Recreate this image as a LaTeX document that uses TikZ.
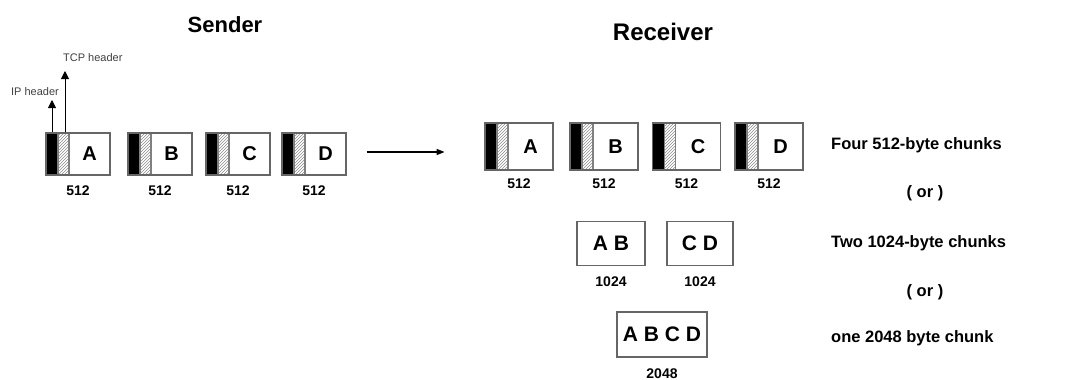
\documentclass[tikz,border=0pt]{standalone}
\usepackage{fontspec}
\setmainfont{Liberation Sans}
\usetikzlibrary{arrows.meta, positioning, patterns}

\tikzset{
  pkt/.style={draw=black!60, line width=1.2pt, minimum width=64pt, minimum height=42pt, inner sep=0pt,
    font=\bfseries\fontsize{20}{22}\selectfont, execute at begin node={\hspace*{23pt}},
    path picture={
      \fill[black] (path picture bounding box.south west) rectangle ([xshift=12pt]path picture bounding box.north west);
      \draw[black!50, pattern=north east lines, pattern color=black!45]
        ([xshift=12pt]path picture bounding box.south west) rectangle ([xshift=23pt]path picture bounding box.north west);
    }},
  rpkt/.style={pkt, minimum width=68pt, minimum height=47pt},
  chunk/.style={draw=black!60, line width=1.2pt, minimum height=44pt, inner sep=0pt, font=\bfseries\fontsize{21}{23}\selectfont},
  size/.style={inner sep=0pt, font=\bfseries\fontsize{14}{16}\selectfont},
  note/.style={inner sep=0pt, font=\bfseries\fontsize{16.5}{18}\selectfont},
  title/.style={inner sep=0pt, font=\bfseries\fontsize{22}{24}\selectfont},
  hdr/.style={inner sep=0pt, text=black!75, font=\fontsize{11}{13}\selectfont},
  hdrarrow/.style={line width=0.9pt, -{Triangle[length=8pt, width=8pt]}},
  flow/.style={line width=1.4pt, -{Triangle[length=8pt, width=6pt]}}
}

\begin{document}
\begin{tikzpicture}[x=1pt, y=-1pt]
\useasboundingbox (0,0) rectangle (1072,380);

% --- Titles ---
\node[title] (sender) at (225,25) {Sender};
\node[title, font=\bfseries\fontsize{24}{26}\selectfont] (receiver) at (663,32) {Receiver};

% --- Sender packets ---
\node[pkt] (sa) at (78,154) {A};
\node[pkt] (sb) at (160,154) {B};
\node[pkt] (sc) at (238,154) {C};
\node[pkt] (sd) at (314,154) {D};
\node[size, below=10pt of sa] (sza) {512};
\node[size, below=10pt of sb] (szb) {512};
\node[size, below=10pt of sc] (szc) {512};
\node[size, below=10pt of sd] (szd) {512};

% --- Header arrows ---
\coordinate (iptip) at (52,100);
\coordinate (tcptip) at (65,71);
\draw[hdrarrow] (iptip |- sa.north) -- (iptip);
\draw[hdrarrow] (tcptip |- sa.north) -- (tcptip);
\node[hdr] (iphdr) at (35,92) {IP header};
\node[hdr, anchor=west] (tcphdr) at (63,58) {TCP header};

% --- Transfer ---
\draw[flow] ([xshift=20pt, yshift=2pt]sd.east) -- ([xshift=98pt, yshift=2pt]sd.east);

% --- Receiver packets ---
\node[rpkt] (ra) at (519,146.5) {A};
\node[rpkt] (rb) at (604,146.5) {B};
\node[rpkt] (rc) at (686.5,146.5) {C};
\node[rpkt] (rd) at (769,146.5) {D};
\node[size, below=8pt of ra] (rza) {512};
\node[size, below=8pt of rb] (rzb) {512};
\node[size, below=8pt of rc] (rzc) {512};
\node[size, below=8pt of rd] (rzd) {512};

% --- Two 1024-byte chunks ---
\node[chunk, minimum width=68pt] (ab) at (611,243.5) {A B};
\node[chunk, minimum width=66pt] (cd) at (700,243.5) {C D};
\node[size, below=10pt of ab] (zab) {1024};
\node[size, below=10pt of cd] (zcd) {1024};

% --- One 2048 byte chunk ---
\node[chunk, minimum width=90pt, minimum height=45pt] (abcd) at (662,334.5) {A B C D};
\node[size, below=11pt of abcd] (zabcd) {2048};

% --- Notes ---
\node[note, anchor=west] (four) at (831,145) {Four 512-byte chunks};
\node[note] (or1) at (925,193) {( or )};
\node[note, anchor=west] (two) at (831,243) {Two 1024-byte chunks};
\node[note] (or2) at (925,292) {( or )};
\node[note, anchor=west] (one) at (831,338) {one 2048 byte chunk};

\end{tikzpicture}
\end{document}
